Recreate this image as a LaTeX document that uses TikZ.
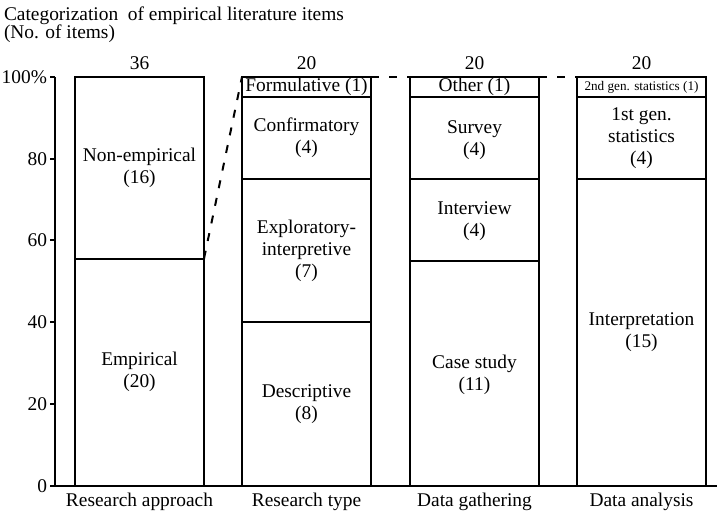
\documentclass[tikz,border=0pt]{standalone}
\usepackage{fontspec}
\setmainfont{Liberation Serif}
\usepackage{tikz}

\begin{document}
\begin{tikzpicture}[x=0.5pt, y=2.045pt, line width=1pt,
        every node/.style={font=\fontsize{9.7}{11}\selectfont},
        seg/.style={align=center, inner sep=0pt},
        link/.style={dash pattern=on 4pt off 5pt}]
        \useasboundingbox (0,-6.85) rectangle (717,118.8);
        % heading
        \node[anchor=base west, inner sep=0pt] (head) at (3,113.7) {Categorization\ \ of empirical literature items};
        \node[anchor=base west, inner sep=0pt] (items) at (3,109.3) {(No. of items)};
        % axis with ticks
        \path[draw] (55,100) -- (55,0) -- (717,0);
        \foreach \v/\t in {0/0, 20/20, 40/40, 60/60, 80/80, 100/100\%}{
            \path[draw] (50,\v) -- (55,\v);
            \node[anchor=east, inner sep=1pt] (tick\v) at (50,\v) {\t};
        }
        % bar frames, count on top and category below
        \foreach \i/\x/\n/\w in {1/75/36/Research approach, 2/242/20/Research type, 3/410/20/Data gathering, 4/577/20/Data analysis}{
            \path[draw] (\x,0) rectangle (\x+129,100);
            \coordinate (nw\i) at (\x,100);
            \coordinate (ne\i) at (\x+129,100);
            \node[anchor=base] (n\i) at (\x+64.5,101.9) {\n};
            \node[anchor=base] (cat\i) at (\x+64.5,-5.1) {\w};
        }
        % splits inside the bars
        \foreach \x/\y in {75/55.56, 242/40, 242/75, 242/95, 410/55, 410/75, 410/95, 577/75, 577/95}{
            \path[draw] (\x,\y) -- (\x+129,\y);
        }
        \coordinate (emp) at (204,55.56);
        % segment labels
        \foreach \s/\x/\y/\w in {nonemp/139.5/77.8/{Non-empirical\\(16)}, empir/139.5/27.8/{Empirical\\(20)},
                formul/306.5/97.5/{Formulative (1)}, confirm/306.5/85/{Confirmatory\\(4)},
                explor/306.5/57.5/{Exploratory-\\interpretive\\(7)}, descr/306.5/20/{Descriptive\\(8)},
                other/474.5/97.5/{Other (1)}, survey/474.5/84.6/{Survey\\(4)},
                interv/474.5/64.7/{Interview\\(4)}, casest/474.5/27.2/{Case study\\(11)},
                first/641.5/85/{1st gen.\\statistics\\(4)}, interp/641.5/37.5/{Interpretation\\(15)}}{
            \node[seg] (\s) at (\x,\y) {\w};
        }
        \node[seg, font=\fontsize{6.6}{7}\selectfont] (second) at (641.5,97.5) {2nd gen. statistics (1)};
        % dashed links between the bars
        \path[draw, link] (emp) -- (nw2);
        \path[draw, link] (ne2) -- (nw3);
        \path[draw, link] (ne3) -- (nw4);
    \end{tikzpicture}
\end{document}
